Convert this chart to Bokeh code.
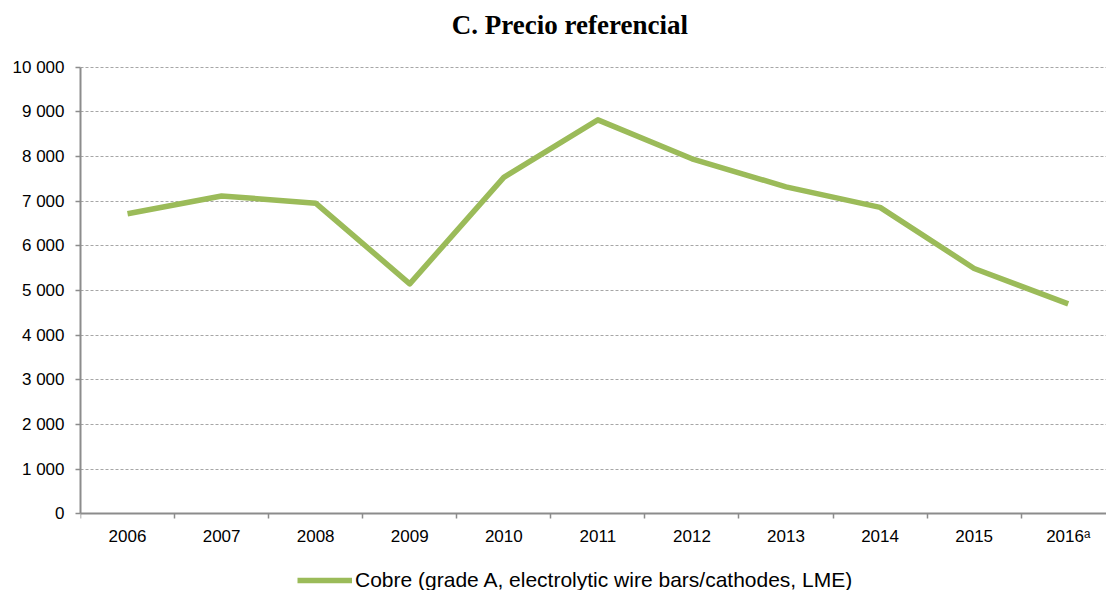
from bokeh.plotting import figure
from bokeh.models import FixedTicker, Legend, LegendItem, Label
from bokeh.embed import file_html
from bokeh.resources import INLINE

years = ["2006", "2007", "2008", "2009", "2010", "2011", "2012", "2013", "2014", "2015", "2016ᵃ"]
precio = [6720, 7118, 6956, 5150, 7535, 8821, 7950, 7322, 6863, 5494, 4700]
y_ticks = [0, 1000, 2000, 3000, 4000, 5000, 6000, 7000, 8000, 9000, 10000]
title_text = "C. Precio referencial"
legend_text = "Cobre (grade A, electrolytic wire bars/cathodes, LME)"

xs = list(range(len(years)))

p = figure(width=1106, height=590, output_backend="svg", toolbar_location=None,
           x_range=(-0.5, 10.407), y_range=(-1717, 11494),
           min_border_left=80, min_border_right=0, min_border_top=0, min_border_bottom=0)
p.title = None
p.outline_line_color = None
p.background_fill_color = "white"
p.border_fill_color = "white"

r = p.line(xs, precio, line_color="#9BBB59", line_width=5.5, line_join="round")

# title inside the top of the frame
p.add_layout(Label(x=4.703, y=10956, text=title_text, text_align="center",
                   text_baseline="middle", text_font="Liberation Serif",
                   text_font_style="bold", text_font_size="27px", text_color="black"))

# x axis, pinned at y = 0
p.xaxis.fixed_location = 0
p.xaxis.ticker = FixedTicker(ticks=xs, minor_ticks=[i - 0.5 for i in range(len(years) + 1)])
p.xaxis.major_label_overrides = {i: y for i, y in enumerate(years)}
p.xaxis.major_tick_out = 0
p.xaxis.major_tick_in = 0
p.xaxis.minor_tick_out = 5
p.xaxis.minor_tick_in = 0
p.xaxis.minor_tick_line_color = "#8c8c8c"
p.xaxis.minor_tick_line_width = 1.5
p.xaxis.axis_line_color = "#8c8c8c"
p.xaxis.axis_line_width = 2
p.xaxis.major_label_text_font = "Liberation Sans"
p.xaxis.major_label_text_font_size = "17px"
p.xaxis.major_label_text_color = "black"
p.xaxis.major_label_standoff = 8

# y axis
p.yaxis.ticker = FixedTicker(ticks=y_ticks)
p.yaxis.bounds = (0, 10000)
p.yaxis.major_label_overrides = {v: f"{v:,}".replace(",", " ") for v in y_ticks}
p.yaxis.major_tick_out = 5
p.yaxis.major_tick_in = 0
p.yaxis.minor_tick_line_color = None
p.yaxis.major_tick_line_color = "#8c8c8c"
p.yaxis.major_tick_line_width = 1.5
p.yaxis.axis_line_color = "#8c8c8c"
p.yaxis.axis_line_width = 2
p.yaxis.major_label_text_font = "Liberation Sans"
p.yaxis.major_label_text_font_size = "17px"
p.yaxis.major_label_text_color = "black"
p.yaxis.major_label_standoff = 11

p.xgrid.grid_line_color = None
p.ygrid.grid_line_color = "#a6a6a6"
p.ygrid.grid_line_dash = "3 2"
p.ygrid.grid_line_width = 1

legend = Legend(items=[LegendItem(label=legend_text, renderers=[r])],
                location=(217, -2), orientation="horizontal",
                glyph_width=55, glyph_height=24, label_standoff=3, label_height=24,
                label_text_font="Liberation Sans", label_text_font_size="21px",
                label_text_color="black", border_line_color=None,
                background_fill_alpha=0, margin=0, padding=0)
p.add_layout(legend)

open("out.html", "w").write(file_html(p, INLINE))
